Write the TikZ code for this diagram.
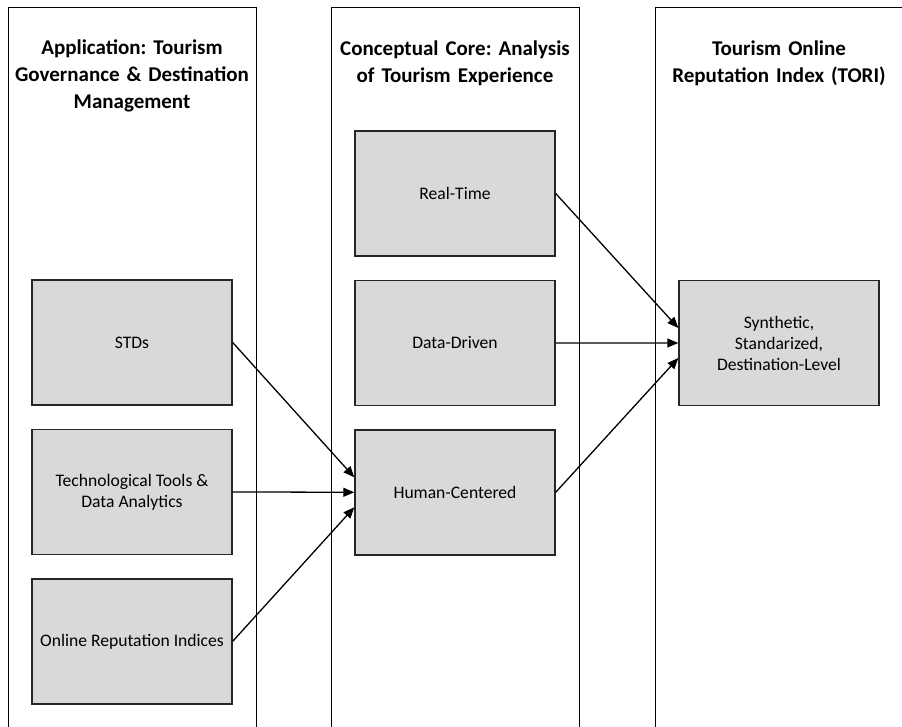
\documentclass[tikz,border=0pt]{standalone}
\usepackage{fontspec}
\setmainfont{Carlito}
\usetikzlibrary{positioning,arrows.meta}

\begin{document}
\frenchspacing
\begin{tikzpicture}
  [x=1pt, y=-1pt, node distance=23pt,
   column/.style={draw, line width=1.4pt, minimum width=248pt, minimum height=760pt, anchor=north west},
   head/.style={font=\fontsize{21}{27}\selectfont\bfseries, align=center, text width=270pt},
   box/.style={draw=black!85, fill=black!15, line width=1.4pt, minimum width=200pt, minimum height=125pt,
               font=\fontsize{17.6}{21}\selectfont, align=center},
   link/.style={-{Triangle[length=11pt,width=9pt]}, line width=1.3pt}]
  \useasboundingbox (0,0) rectangle (902,726);
  \clip (0,0) rectangle (902,726);
  % columns
  \node[column] (app) at (8,7) {};
  \node[column] (core) at (331,7) {};
  \node[column] (tori) at (655,7) {};
  \node[head] (apphead) at (132,76) {Application: Tourism\\Governance \& Destination\\Management};
  \node[head] (corehead) at (455,63) {Conceptual Core: Analysis\\of Tourism Experience};
  \node[head] (torihead) at (779,63) {Tourism Online\\Reputation Index (TORI)};
  % boxes
  \node[box] (stds) at (132,342.5) {STDs};
  \node[box, below=of stds] (tech) {Technological Tools \&\\Data Analytics};
  \node[box, below=of tech] (ori) {Online Reputation Indices};
  \node[box] (rt) at (455,193.5) {Real-Time};
  \node[box, below=of rt] (dd) {Data-Driven};
  \node[box, below=of dd] (hc) {Human-Centered};
  \node[box] (syn) at (779,343) {Synthetic,\\Standarized,\\Destination-Level};
  % links
  \draw[link] (stds.east) -- ([yshift=15pt]hc.west);
  \draw[link] (tech.east) -- (hc.west);
  \draw[link] (ori.east) -- ([yshift=-15pt]hc.west);
  \draw[link] (rt.east) -- ([yshift=15pt]syn.west);
  \draw[link] (dd.east) -- (syn.west);
  \draw[link] (hc.east) -- ([yshift=-15pt]syn.west);
\end{tikzpicture}
\end{document}
